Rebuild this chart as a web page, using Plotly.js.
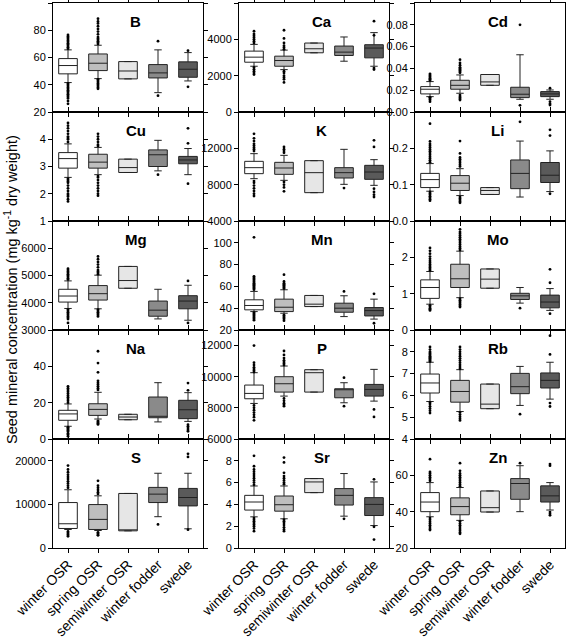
<!DOCTYPE html>
<html><head><meta charset="utf-8">
<script src="https://cdn.plot.ly/plotly-3.0.1.min.js"></script>
<style>html,body{margin:0;padding:0;background:#fff}#chart{width:566px;height:638px}</style>
</head><body><div id="chart"></div>
<script>
const elements = ["B","Ca","Cd","Cu","K","Li","Mg","Mn","Mo","Na","P","Rb","S","Sr","Zn"];
const categories = ["winter OSR","spring OSR","semiwinter OSR","winter fodder","swede"];

const lowerFence = [
  [41.6,44.5,44.3,34.2,42.8],
  [2519,2333,3259,2796,2519],
  [0.0141,0.0172,0.0245,0.0117,0.0117],
  [2.6,2.7,2.78,2.84,2.7],
  [8661,8477,7119,8037,7927],
  [0.082,0.070,0.073,0.066,0.081],
  [3790,3778,4531,3407,3358],
  [36.9,35.4,41.5,32.3,30],
  [0.71,0.89,1.15,0.74,0.54],
  [7,11,10.6,9.4,9.7],
  [8283,8755,9013,8326,8433],
  [5.72,5.26,5.39,5.54,5.83],
  [4247,4015,3938,7181,4402],
  [2.86,2.68,5.08,2.92,2.06],
  [37.2,35.2,39.8,40,40.9]
];
const q1 = [
  [48,50.4,44.3,45,45.5],
  [2741,2519,3259,3111,2981],
  [0.0166,0.0209,0.0245,0.0132,0.0141],
  [2.94,2.94,2.78,3.0,3.1],
  [9211,9138,7119,8734,8587],
  [0.092,0.084,0.073,0.089,0.106],
  [4025,4099,4531,3506,3778],
  [38.5,36.9,41.5,36.3,32.9],
  [0.87,1.17,1.15,0.84,0.61],
  [10.3,13,10.6,11.7,11.2],
  [8584,9013,9013,8648,8755],
  [6.11,5.69,5.39,6.08,6.34],
  [4479,4247,3938,10425,9652],
  [3.48,3.38,5.08,3.94,2.98],
  [40,38.3,39.8,46.8,45.3]
];
const median = [
  [54.1,55.8,50.1,48.7,51.4],
  [3019,2833,3481,3296,3519],
  [0.0209,0.0245,0.0276,0.0163,0.0166],
  [3.29,3.16,2.96,3.43,3.24],
  [9872,9835,9321,9321,9394],
  [0.114,0.104,0.084,0.131,0.126],
  [4247,4333,4815,3728,4062],
  [42.5,40.9,43.7,40,37.8],
  [1.17,1.41,1.40,0.94,0.77],
  [13.8,16.3,12.1,12.5,16.1],
  [8927,9549,10258,9185,9185],
  [6.57,6.18,5.6,6.4,6.69],
  [5560,6564,4093,12355,11583],
  [4.22,3.97,6.06,4.83,4.0],
  [45.3,42.8,42.2,55.5,48.7]
];
const q3 = [
  [59.2,62.6,57,54.8,56.8],
  [3352,3074,3796,3630,3704],
  [0.0233,0.0291,0.0344,0.0227,0.0187],
  [3.51,3.45,3.27,3.61,3.37],
  [10569,10459,10642,9872,10128],
  [0.131,0.125,0.092,0.168,0.161],
  [4494,4630,5333,4062,4259],
  [47.7,48.3,51.7,44.6,40.6],
  [1.38,1.81,1.68,1.01,0.96],
  [15.8,19.4,13.6,23.1,21.3],
  [9464,10000,10451,9227,9506],
  [6.98,6.69,6.52,7.01,7.03],
  [10425,9961,12510,13900,13668],
  [4.83,4.77,6.37,5.45,4.62],
  [50.5,47.6,51.4,58.2,54.2]
];
const upperFence = [
  [65.6,69,57,65.6,63.6],
  [3722,3407,3796,4130,4370],
  [0.0279,0.034,0.0344,0.0525,0.0202],
  [3.83,3.7,3.27,3.96,3.66],
  [11413,11229,10642,11890,10752],
  [0.158,0.144,0.092,0.22,0.193],
  [4802,5012,5333,4494,4642],
  [55.4,56.9,51.7,51.4,48.3],
  [1.61,2.17,1.68,1.17,1.14],
  [19.3,25.7,13.6,31,25.5],
  [10258,10687,10451,9614,10472],
  [7.52,7.18,6.52,7.33,7.52],
  [13359,11969,12510,17143,17143],
  [5.69,5.69,6.37,6.83,6.06],
  [56,53.3,51.4,65.3,56]
];
const outliers = [
  [[66.5,67.5,68.5,69.5,70.5,71.5,72.5,73.5,74.5,75.5,76.5,41,40,39,38,37,36,35,34,33,32,31,30,28,26],
   [70,71,72,73,74,75,77,79,81,83,85,86.5,88.5,44,43,42,41,40,39,38,37],[],[72,32],[65,38.5]],
  [[3800,3900,4000,4100,4200,4300,4450,2450,2350,2250,2150,2060],
   [3450,3550,3650,3800,4050,4500,2250,2150,2000,1900,1800,1630],[],[],[5000,4220,2420,2340]],
  [[0.029,0.030,0.031,0.032,0.033,0.034,0.035,0.0135,0.013,0.012,0.011,0.0095],
   [0.036,0.037,0.038,0.039,0.040,0.041,0.043,0.045,0.048,0.0155,0.014,0.013,0.012,0.011],[],[0.080,0.0061],[0.0218,0.0095,0.0075,0.0064]],
  [[3.9,4.0,4.05,4.1,4.2,4.3,4.4,4.5,4.6,2.55,2.5,2.45,2.4,2.3,2.2,2.1,2.0,1.95,1.9,1.8,1.72],
   [3.75,3.8,3.9,4.0,4.1,4.2,2.65,2.6,2.5,2.4,2.3,2.2,2.1,2.0,1.93],[],[2.7],[4.4,3.85,2.37]],
  [[11700,11900,12100,12300,12500,12800,13100,13600,8400,8200,7900,7600,7300,7000,6750],
   [11500,11700,11900,12150,8300,8000,7700,7270],[],[7630],[12880,12150,7560,7200,6900,6640]],
  [[0.162,0.167,0.172,0.177,0.182,0.187,0.192,0.197,0.202,0.207,0.212,0.219,0.268,0.080,0.076,0.072,0.068,0.064,0.060,0.056],
   [0.150,0.155,0.160,0.165,0.170,0.175,0.186,0.220,0.066,0.062,0.058,0.054,0.05],[],[0.273],[0.251,0.235,0.075]],
  [[4850,4900,4950,5000,5050,5100,5150,5200,5250,3750,3700,3650,3600,3550,3500,3450,3400,3260],
   [5050,5100,5150,5200,5300,5400,5500,5600,5700,3750,3700,3650,3600,3550,3500],[],[],[4800,3260]],
  [[57,58,59,60,61,62,63,64,65,66,67,68,69.2,105,36,35,34,33,32,31,30,29],
   [58,59,60,61,62,63,64.6,70.8,33.8,33,32,31,30,28.6],[],[55.4],[53.2,26.2]],
  [[1.64,1.68,1.72,1.76,1.80,1.85,1.90,1.96,2.02,2.10,2.18,2.26,0.68,0.64,0.6,0.57,0.54],
   [2.2,2.25,2.3,2.35,2.4,2.45,2.5,2.55,2.6,2.65,2.7,2.77,0.86,0.82,0.78,0.74,0.7,0.66,0.63],[],[0.6],[1.67,1.3,0.45]],
  [[20,21,22,23,24,25,26,27,28,29,6.5,6,5.5,5,4.5,4,3,2.5,1.5],
   [27,28,29,30,31,32,36.7,41.8,48.3,10,9.5,9,8.5,8],[],[],[30.8,26.8,7.9,7,6,5,4.2]],
  [[10300,10400,10500,10600,10750,10900,12000,8150,8000,7850,7700,7550,7400,7200],
   [10750,10850,10950,11050,11200,11400,11650,8600,8450,8300,8200,8110],[],[9940,8110],[7900,7420]],
  [[7.55,7.6,7.65,7.7,7.75,7.8,7.85,7.9,7.95,8.0,8.1,8.22,5.68,5.6,5.5,5.4,5.3,5.19],
   [7.22,7.3,7.4,7.5,7.6,7.7,7.8,7.9,8.0,8.1,8.22,5.22,5.12,5.02,4.93,4.85],[],[5.14],[8.74,7.88,5.65,5.49]],
  [[13800,14300,14800,15300,15800,16300,16800,17400,18000,18900,3800,3500,3200,3000,2700],
   [12400,12800,13300,13800,14300,15400,3600,3300,3000,2900],[],[5400],[21600,20900,4200]],
  [[5.8,6.0,6.2,6.4,6.6,6.8,7.0,7.2,7.5,8.46,2.75,2.6,2.45,2.3,2.15,2.0,1.8,1.54],
   [5.85,6.0,6.2,6.4,6.6,6.9,7.85,8.3,2.6,2.45,2.3,2.1,1.9,1.7,1.54],[],[2.68],[6.3,1.94,0.77]],
  [[57,58,59,60,61,61.9,68.9,36.5,35.5,34.5,33.5,32.5,31.5,30.5,29.9],
   [54,55,56,57,58,59,60,61,62.5,66.7,34.7,33.5,32.5,31.5,30.5,29.5,28.5,27.8],[],[66.7],[66.2,65.3,39.8,38.8,38]]
];
const yRanges = [[20,100],[0,6000],[0,0.1],[1,5],[4000,16000],[0,0.3],[3000,7000],[20,120],[0,3],[0,60],[6000,13000],[4,9],[0,25000],[0,10],[20,80]];
const yTicks = [[20,40,60,80,100],[0,2000,4000,6000],[0,0.02,0.04,0.06,0.08,0.10],[1,2,3,4],[4000,8000,12000],[0,0.1,0.2],[3000,4000,5000,6000],[20,40,60,80,100],[0,1,2],[0,20,40],[6000,8000,10000,12000],[4,5,6,7,8],[0,10000,20000],[0,2,4,6,8],[20,40,60]];
const yFormats = ["d","d",".2f","d","d",".1f","d","d","d","d","d","d","d","d","d"];

const boxColors = ["#ffffff","#bebebe","#e6e6e6","#8a8a8a","#5a5a5a"];
const W = 566, H = 638;
const colPx = [[53,203],[239,389],[415,565]];
const rowPx = [[3,112],[112,221],[221,330],[330,439],[439,548]];
const FONT = "Liberation Sans, Arial, Helvetica, sans-serif";

const traces = [];
const layout = {width:W, height:H, margin:{l:0,r:0,t:0,b:0}, paper_bgcolor:"#fff", plot_bgcolor:"#fff",
  showlegend:false, boxmode:"overlay", font:{family:FONT, color:"#000", size:11}, annotations:[]};

elements.forEach((el,i)=>{
  const r = Math.floor(i/3), c = i%3;
  const ax = i===0 ? "" : String(i+1);
  const xa = "x"+ax, ya = "y"+ax;
  categories.forEach((cat,j)=>{
    traces.push({type:"box", x:[cat], q1:[q1[i][j]], median:[median[i][j]], q3:[q3[i][j]],
      lowerfence:[lowerFence[i][j]], upperfence:[upperFence[i][j]], xaxis:xa, yaxis:ya,
      width:0.62, whiskerwidth:0.4, fillcolor:boxColors[j], line:{color:"#222",width:1},
      boxpoints:false, hoverinfo:"skip", showlegend:false});
  });
  const ox=[], oy=[];
  outliers[i].forEach((arr,j)=>arr.forEach(v=>{ox.push(categories[j]); oy.push(v);}));
  traces.push({type:"scatter", mode:"markers", x:ox, y:oy, xaxis:xa, yaxis:ya,
    marker:{color:"#000", size:2.8}, hoverinfo:"skip", showlegend:false, cliponaxis:false});
  layout["xaxis"+ax] = {domain:[colPx[c][0]/W, colPx[c][1]/W], anchor:ya, type:"category",
    categoryorder:"array", categoryarray:categories, range:[-0.5,4.5], showline:true, mirror:"ticks",
    linecolor:"#000", linewidth:1, ticks:"outside", ticklen:4, tickcolor:"#000",
    showticklabels:r===4, tickangle:-45, tickfont:{size:14, family:FONT}, ticklabelstandoff:-2,
    showgrid:false, zeroline:false, fixedrange:true};
  layout["yaxis"+ax] = {domain:[1-rowPx[r][1]/H, 1-rowPx[r][0]/H], anchor:xa, range:yRanges[i],
    tickmode:"array", tickvals:yTicks[i], tickformat:yFormats[i], showline:true, mirror:"ticks",
    linecolor:"#000", linewidth:1, ticks:"outside", ticklen:4, tickcolor:"#000",
    tickfont:{size:11, family:FONT}, showgrid:false, zeroline:false, fixedrange:true};
  layout.annotations.push({xref:xa+" domain", yref:ya+" domain", x:0.55, y:0.83, text:"<b>"+el+"</b>",
    showarrow:false, xanchor:"center", yanchor:"middle", font:{size:15, family:FONT}});
});
layout.annotations.push({xref:"paper", yref:"paper", x:11/W, y:1-290/H, textangle:-90,
  text:"Seed mineral concentration (mg kg<sup>-1</sup> dry weight)", showarrow:false,
  xanchor:"center", yanchor:"middle", font:{size:14.5, family:FONT}});

Plotly.newPlot("chart", traces, layout, {staticPlot:true, displayModeBar:false});
</script></body></html>
